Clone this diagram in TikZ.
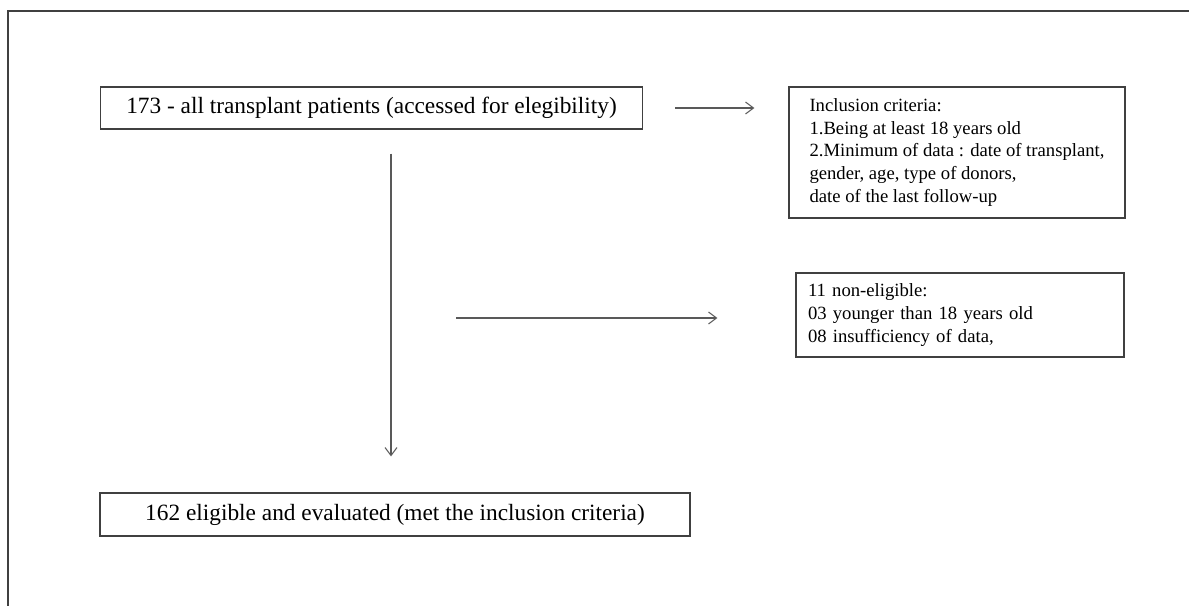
\documentclass[tikz,border=0pt]{standalone}
\usepackage{fontspec}
\setmainfont{Liberation Serif}
\usetikzlibrary{arrows.meta}
\tikzset{
  box/.style={draw=black!75,line width=0.9pt,inner ysep=0pt},
  bigtext/.style={font=\fontsize{17.5}{20}\selectfont},
  smalltext/.style={font=\fontsize{14}{17}\selectfont,align=left},
  arr/.style={draw=black!65,line width=0.8pt,-{Straight Barb[length=6pt,width=9pt]}}
}
\begin{document}
\begin{tikzpicture}[x=0.75pt,y=-0.75pt]
        \useasboundingbox (0,0) rectangle (1189,606);
        %% Frame
        \draw[black!75,line width=0.9pt] (8,606) -- (8,11) -- (1189,11);
        %% Boxes
        \node[box,bigtext,minimum width=407pt,minimum height=31.5pt] (all) at (371.5,108)
          {173 - all transplant patients (accessed for elegibility)};
        \node[box,smalltext,minimum width=252pt,minimum height=98.25pt] (crit) at (957,152.5)
          {Inclusion criteria:\\
           1.Being at least 18 years old\\
           2.Minimum of data : date of transplant,\\
           gender, age, type of donors,\\
           date of the last follow-up};
        \node[box,smalltext,text width=228pt,inner xsep=9pt,minimum height=63pt] (non) at (960,315)
          {11 non-eligible:\\
           03 younger than 18 years old\\
           08 insufficiency of data,};
        \node[box,bigtext,minimum width=442.5pt,minimum height=32.25pt] (eval) at (395,514.5)
          {162 eligible and evaluated (met the inclusion criteria)};
        %% Arrows
        \draw[arr] ([xshift=24pt]all.east) -- ([xshift=-25.5pt]all.east -| crit.west);
        \draw[arr] ([xshift=-3pt,yshift=-18pt]all.south -| eval.north) -- ([xshift=-3pt,yshift=27pt]eval.north);
        \coordinate (side) at (456,318);
        \draw[arr] (side) -- ([xshift=-58.5pt]side -| non.west);
\end{tikzpicture}
\end{document}
